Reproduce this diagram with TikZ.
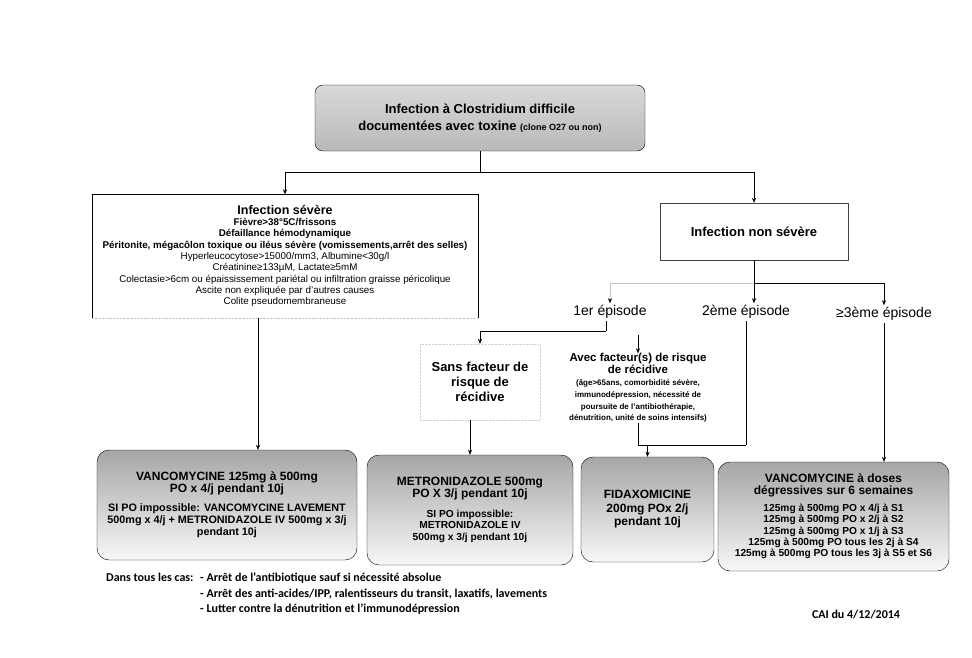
\documentclass[tikz,border=0pt]{standalone}
\usepackage{fontspec}
\setmainfont{Liberation Sans}
\newfontfamily\calibri{Carlito}
\usetikzlibrary{arrows.meta}

\begin{document}
\begin{tikzpicture}[x=1pt,y=-1pt,
  >={Stealth[length=5pt,width=4pt]},
  topbox/.style={draw,rounded corners=8pt,top color=gray!30,bottom color=gray!55,
    minimum width=330,minimum height=66,align=center,inner sep=0pt,
    font=\fontsize{13}{17}\selectfont\bfseries},
  sevbox/.style={minimum width=386,minimum height=123,align=center,inner sep=0pt,
    font=\fontsize{9.8}{11.3}\selectfont},
  nsbox/.style={draw=black!75,minimum width=188,minimum height=57,inner sep=0pt,
    font=\fontsize{13}{15}\selectfont\bfseries},
  epi/.style={inner sep=2pt,font=\fontsize{14}{16}\selectfont},
  treat/.style={draw,rounded corners=12pt,top color=gray!70,middle color=gray!35,
    bottom color=gray!6,align=center,inner sep=0pt,
    font=\fontsize{10.8}{12}\selectfont\bfseries},
  note/.style={inner sep=0pt,font=\calibri\bfseries\fontsize{12}{15.5}\selectfont}]
\useasboundingbox (0,0) rectangle (972,658);

% haut
\node[topbox] (cdiff) at (480,118) {Infection à Clostridium difficile\\documentées avec toxine {\fontsize{9}{10}\selectfont(clone O27 ou non)}};

\node[sevbox] (severe) at (285,256) {{\fontsize{12.5}{13}\selectfont\bfseries Infection sévère}\\
  {\bfseries Fièvre>38°5C/frissons}\\
  {\bfseries Défaillance hémodynamique}\\
  {\bfseries Péritonite, mégacôlon toxique ou iléus sévère (vomissements,arrêt des selles)}\\
  Hyperleucocytose>15000/mm3, Albumine<30g/l\\
  Créatinine≥133µM, Lactate≥5mM\\
  Colectasie>6cm ou épaississement pariétal ou infiltration graisse péricolique\\
  Ascite non expliquée par d’autres causes\\
  Colite pseudomembraneuse};
\draw (severe.south west) -- (severe.north west) -- (severe.north east) -- (severe.south east);
\draw[gray!45,densely dotted] (severe.south west) -- (severe.south east);

\node[nsbox] (nonsev) at (754,231.5) {Infection non sévère};

\coordinate (split) at (480,172);
\draw (cdiff.south) -- (split);
\draw[->] (split) -| (severe.north);
\draw[->] (split) -| (nonsev.north);

% episodes
\node[epi] (ep1) at (610,312) {1er épisode};
\node[epi] (ep2) at (746,312) {2ème épisode};
\node[epi] (ep3) at (884,314) {≥3ème épisode};

\coordinate (nsplit) at (754,283);
\draw (nonsev.south) -- (nsplit);
\draw[gray!45,-{Stealth[length=5pt,width=4pt,black]}] (nsplit) -| (ep1.north);
\draw[->] (nsplit) -- (nsplit |- ep2.north);
\draw[->] (nsplit) -| (ep3.north);

\node[draw=gray!35,densely dotted,minimum width=120,minimum height=76,align=center,inner sep=0pt,
  font=\fontsize{13}{15}\selectfont\bfseries] (sans) at (480,382) {Sans facteur de\\risque de\\récidive};
\node[align=center,inner sep=0pt,font=\fontsize{8}{11.8}\selectfont\bfseries] (avec) at (638,388)
  {{\fontsize{11.5}{15}\selectfont Avec facteur(s) de risque}\\{\fontsize{11.5}{15}\selectfont de récidive}\\
  (âge>65ans, comorbidité sévère,\\immunodépression, nécessité de\\poursuite de l’antibiothérapie,\\dénutrition, unité de soins intensifs)};

\coordinate (j1) at (606,331);
\draw (ep1.south -| j1) -- (j1);
\draw[->] (j1) -| (sans.north);
\coordinate (a1) at (638,335);
\draw[->] (a1) -- (avec.north);

% traitements
\node[treat,minimum width=260,minimum height=110] (vlav) at (227,505)
  {{\fontsize{12}{16}\selectfont VANCOMYCINE 125mg à 500mg}\\{\fontsize{12}{13}\selectfont PO x 4/j pendant 10j}\\[7pt]
  SI PO impossible: VANCOMYCINE LAVEMENT\\500mg x 4/j + METRONIDAZOLE IV 500mg x 3/j\\pendant 10j};
\node[treat,minimum width=206,minimum height=110,font=\fontsize{10.2}{11.6}\selectfont\bfseries] (vmet) at (470,510)
  {{\fontsize{12}{13}\selectfont METRONIDAZOLE 500mg}\\{\fontsize{12}{13}\selectfont PO X 3/j pendant 10j}\\[8pt]
  SI PO impossible:\\METRONIDAZOLE IV\\500mg x 3/j pendant 10j};
\node[treat,minimum width=133,minimum height=105,font=\fontsize{12}{13.5}\selectfont\bfseries] (fida) at (647.5,509.5)
  {FIDAXOMICINE\\200mg POx 2/j\\pendant 10j};
\node[treat,minimum width=231,minimum height=109,font=\fontsize{10.2}{11.3}\selectfont\bfseries] (vdeg) at (833.5,516.5)
  {{\fontsize{12}{12.5}\selectfont VANCOMYCINE à doses}\\{\fontsize{12}{12.5}\selectfont dégressives sur 6 semaines}\\[6pt]
  125mg à 500mg PO x 4/j à S1\\125mg à 500mg PO x 2/j à S2\\125mg à 500mg PO x 1/j à S3\\
  125mg à 500mg PO tous les 2j à S4\\125mg à 500mg PO tous les 3j à S5 et S6};

\coordinate (j2) at (746,445);
\draw (ep2.south) -- (j2);
\draw (avec.south) |- (j2);
\draw[->] (fida.north |- j2) -- (fida.north);
\draw[->] (ep3.south) -- (ep3.south |- vdeg.north);
\draw[->] (sans.south -| vmet.north) -- (vmet.north);
\coordinate (s1) at (258,318);
\draw[->] (s1) -- (s1 |- vlav.north);

% bas de page
\node[note,anchor=north west] (cas) at (106,573) {Dans tous les cas:};
\node[note,anchor=north west,align=left] (mesures) at (200,573)
  {- Arrêt de l’antibiotique sauf si nécessité absolue\\
   - Arrêt des anti-acides/IPP, ralentisseurs du transit, laxatifs, lavements\\
   - Lutter contre la dénutrition et l’immunodépression};
\node[note] (cai) at (856,615) {CAI du 4/12/2014};
\end{tikzpicture}
\end{document}
